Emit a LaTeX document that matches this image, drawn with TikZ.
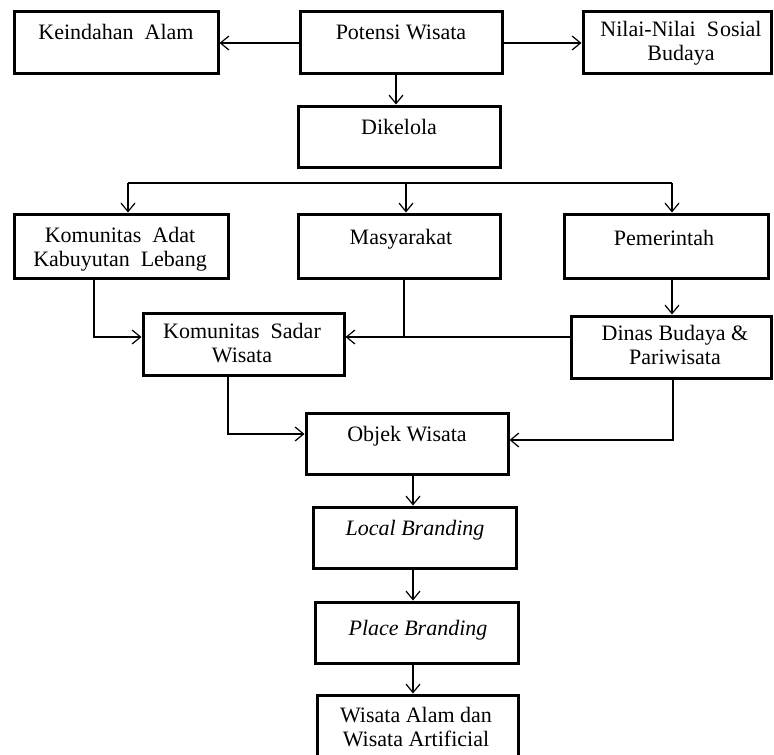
\documentclass[tikz,border=0pt]{standalone}
\usepackage{fontspec}
\setmainfont{Liberation Serif}
\usetikzlibrary{arrows.meta,fit}
\newcommand\lineup{\rule{0pt}{16pt}}
\begin{document}
\begin{tikzpicture}[x=1pt,y=-1pt,
  box/.style={draw, line width=3pt, inner sep=0pt, rectangle},
  lbl/.style={anchor=north, inner sep=0pt, align=center,
    font=\fontsize{22}{24}\selectfont},
  conn/.style={line width=1.2pt},
  arr/.style={conn, -{Straight Barb[length=8.5pt,width=14pt,line width=1.2pt]}}]
\useasboundingbox (0,0) rectangle (774,755);
\clip (0,0) rectangle (774,755);

% boxes
\node[box, fit={(14,11) (218,73)}]   (k)  {};
\node[box, fit={(300,11) (502,73)}]  (p)  {};
\node[box, fit={(583,11) (771,73)}]  (n)  {};
\node[box, fit={(298,106) (500,167)}] (d) {};
\node[box, fit={(14,214) (228,278)}]  (ka) {};
\node[box, fit={(298,214) (500,278)}] (m)  {};
\node[box, fit={(564,214) (768,278)}] (pe) {};
\node[box, fit={(143,313) (344,375)}] (s)  {};
\node[box, fit={(571,316) (771,378)}] (di) {};
\node[box, fit={(306,413) (508,474)}] (o)  {};
\node[box, fit={(313,507) (516,568)}] (lb) {};
\node[box, fit={(315,602) (518,663)}] (pb) {};
\node[box, fit={(317,695) (518,785)}] (w)  {};

% labels
\node[lbl] (k-t)  at (116,23)  {\lineup Keindahan\ \ Alam};
\node[lbl] (p-t)  at (401,23)  {\lineup Potensi Wisata};
\node[lbl] (n-t)  at (681,20)  {\lineup Nilai-Nilai\ \ S\kern1pt osial\\Budaya};
\node[lbl] (d-t)  at (399,118) {\lineup Dikelola};
\node[lbl] (ka-t) at (120,226) {\lineup Komunitas\ \ Adat\\Kabuyutan\ \ Lebang};
\node[lbl] (m-t)  at (401,228) {\lineup Masyarakat};
\node[lbl] (pe-t) at (664,229) {\lineup Pemerintah};
\node[lbl] (s-t)  at (242,322) {\lineup Komunitas\ \ Sadar\\Wisata};
\node[lbl] (di-t) at (675,324) {\lineup Dinas Budaya \&\\Pariwisata};
\node[lbl] (o-t)  at (407,425) {\lineup Objek Wisata};
\node[lbl] (lb-t) at (415,519) {\lineup\itshape Local Branding};
\node[lbl] (pb-t) at (418,619) {\lineup\itshape Place Branding};
\node[lbl] (w-t)  at (416,706) {\lineup Wisata Alam dan\\Wisata Artificial};

% junction points
\coordinate (b1) at (128,183);
\coordinate (b2) at (406,183);
\coordinate (b3) at (672,183);
\coordinate (j1) at (94,337);
\coordinate (j2) at (404,337);
\coordinate (j3) at (228,434);
\coordinate (j4) at (673,440);

% connectors
\draw[arr] (p.west |- 0,43) -- (k.east |- 0,43);
\draw[arr] (p.east |- 0,43) -- (n.west |- 0,43);
\draw[arr] (p.south -| 396,0) -- (d.north -| 396,0);

\draw[conn] (b1) -- (b3);
\draw[arr] (b1) -- (b1 |- ka.north);
\draw[arr] (b2) -- (b2 |- m.north);
\draw[arr] (b3) -- (b3 |- pe.north);

\draw[arr] (j1 |- ka.south) -- (j1) -- (j1 -| s.west);
\draw[conn] (j2 |- m.south) -- (j2);
\draw[arr] (j2 -| di.west) -- (j2 -| s.east);
\draw[arr] (b3 |- pe.south) -- (b3 |- di.north);

\draw[arr] (j3 |- s.south) -- (j3) -- (j3 -| o.west);
\draw[arr] (j4 |- di.south) -- (j4) -- (j4 -| o.east);

\draw[arr] (o.south -| 413,0) -- (lb.north -| 413,0);
\draw[arr] (lb.south -| 413,0) -- (pb.north -| 413,0);
\draw[arr] (pb.south -| 413,0) -- (w.north -| 413,0);
\end{tikzpicture}
\end{document}
